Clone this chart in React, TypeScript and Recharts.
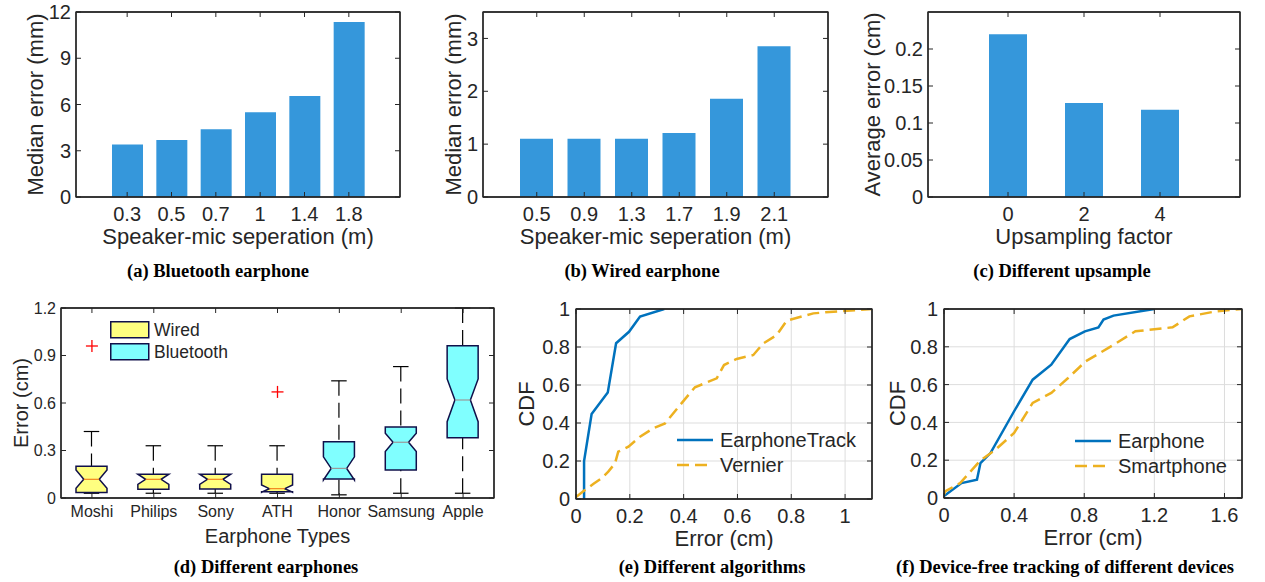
import React from "react";
import {
  ComposedChart,
  LineChart,
  Bar,
  Line,
  Scatter,
  XAxis,
  YAxis,
  CartesianGrid,
  Legend,
} from "recharts";

const FONT = '"Liberation Sans", Arial, Helvetica, sans-serif';
const SERIF = '"Liberation Serif", "Times New Roman", serif';
const INK = "#262626";
const AXIS = "#262626";
const GRID = "#dddddd";
const BAR_BLUE = "#3597DB";
const WIRED_FILL = "#FFFF80";
const BT_FILL = "#80FFFF";
const EDGE = "#10104a";

// (a) Bluetooth earphone
const btSeparation = ["0.3", "0.5", "0.7", "1", "1.4", "1.8"];
const btMedianErr = [3.4, 3.7, 4.4, 5.5, 6.55, 11.35];
const btTicks = [0, 3, 6, 9, 12];

// (b) Wired earphone
const wiredSeparation = ["0.5", "0.9", "1.3", "1.7", "1.9", "2.1"];
const wiredMedianErr = [1.1, 1.1, 1.1, 1.21, 1.86, 2.85];
const wiredTicks = [0, 1, 2, 3];

// (c) Different upsample
const upFactor = ["0", "2", "4"];
const upAvgErr = [0.22, 0.127, 0.118];
const upTicks = [0, 0.05, 0.1, 0.15, 0.2];

// (d) Different earphones (box plots)
const earphones = ["Moshi", "Philips", "Sony", "ATH", "Honor", "Samsung", "Apple"];
const earphoneKind = ["Wired", "Wired", "Wired", "Wired", "Bluetooth", "Bluetooth", "Bluetooth"];
const whiskerLo = [0.03, 0.03, 0.03, 0.03, 0.02, 0.03, 0.03];
const q1 = [0.034, 0.056, 0.057, 0.04, 0.12, 0.177, 0.381];
const medians = [0.118, 0.118, 0.118, 0.059, 0.187, 0.352, 0.619];
const q3 = [0.2, 0.15, 0.15, 0.15, 0.356, 0.448, 0.962];
const whiskerHi = [0.42, 0.33, 0.33, 0.33, 0.74, 0.83, 1.2];
const notchLo = [0.061, 0.086, 0.086, 0.036, 0.114, 0.293, 0.482];
const notchHi = [0.177, 0.15, 0.15, 0.082, 0.26, 0.409, 0.752];
const outlierNames = ["Moshi", "ATH"];
const outlierVals = [0.96, 0.67];
const boxTicks = [0, 0.3, 0.6, 0.9, 1.2];
const boxKinds = ["Wired", "Bluetooth"];

// (e) Different algorithms
const trackX = [0.03, 0.03, 0.058, 0.118, 0.149, 0.197, 0.238, 0.328];
const trackY = [0, 0.2, 0.447, 0.56, 0.82, 0.88, 0.96, 1];
const vernierX = [0, 0.033, 0.064, 0.095, 0.12, 0.145, 0.157, 0.195, 0.238, 0.287, 0.331, 0.387, 0.442, 0.523, 0.55, 0.597, 0.659, 0.696, 0.746, 0.783, 0.882, 0.957, 1.1];
const vernierY = [0.01, 0.047, 0.079, 0.109, 0.144, 0.188, 0.249, 0.275, 0.328, 0.372, 0.398, 0.495, 0.588, 0.635, 0.705, 0.737, 0.758, 0.819, 0.863, 0.939, 0.977, 0.986, 1];
const algoTicksX = [0, 0.2, 0.4, 0.6, 0.8, 1];

// (f) Device-free tracking of different devices
const earX = [0, 0.1, 0.188, 0.208, 0.265, 0.4, 0.506, 0.612, 0.717, 0.804, 0.881, 0.91, 0.967, 1.2];
const earY = [0.01, 0.079, 0.097, 0.185, 0.238, 0.459, 0.626, 0.705, 0.841, 0.882, 0.903, 0.944, 0.965, 1];
const phoneX = [0, 0.006, 0.092, 0.208, 0.294, 0.4, 0.506, 0.612, 0.708, 0.808, 0.938, 1.092, 1.304, 1.4, 1.554, 1.7];
const phoneY = [0.018, 0.035, 0.079, 0.199, 0.256, 0.344, 0.503, 0.556, 0.635, 0.723, 0.794, 0.882, 0.903, 0.961, 0.988, 1];
const deviceTicksX = [0, 0.4, 0.8, 1.2, 1.6];

const cdfTicks = [0, 0.2, 0.4, 0.6, 0.8, 1];

const toRows = (xs: number[], ys: number[]) => xs.map((x, i) => ({ x, y: ys[i] }));
const blank = () => "";

type Box = { l: number; r: number; t: number; b: number };

const frameMargin = (width: number, plot: Box) => ({
  top: plot.t - 1,
  right: width - plot.r - 1,
  bottom: 0,
  left: 0,
});

const axisLineStyle = { stroke: AXIS, strokeWidth: 1.3 };
const tickLineStyle = { stroke: AXIS, strokeWidth: 1 };

// MATLAB-style closed axes box drawn over the plot area
function Frame({ plot }: { plot: Box }) {
  const w = plot.r - plot.l;
  const h = plot.b - plot.t;
  return (
    <svg
      width={w + 4}
      height={h + 4}
      style={{ position: "absolute", left: plot.l - 2, top: plot.t - 2, zIndex: 5, pointerEvents: "none", display: "block" }}
    >
      <rect x={2} y={2} width={w} height={h} fill="none" stroke={AXIS} strokeWidth={1.3} />
    </svg>
  );
}

function Caption({ text, cx, cy }: { text: string; cx: number; cy: number }) {
  return (
    <div
      style={{
        position: "absolute",
        left: cx - 220,
        top: cy - 11,
        width: 440,
        lineHeight: "22px",
        textAlign: "center",
        fontFamily: SERIF,
        fontWeight: "bold",
        fontSize: 18.5,
        color: "#000",
      }}
    >
      {text}
    </div>
  );
}

type BarPanelProps = {
  left: number;
  top: number;
  width: number;
  height: number;
  plot: Box;
  cats: string[];
  vals: number[];
  yMax: number;
  yTicks: number[];
  pad: number;
  barSize: number;
  yLabel: string;
  yLabelX: number;
  xLabel: string;
};

function BarPanel(p: BarPanelProps) {
  const rows = p.cats.map((name, i) => ({ name, v: p.vals[i] }));
  return (
    <div style={{ position: "absolute", left: p.left, top: p.top, width: p.width, height: p.height }}>
      <ComposedChart width={p.width} height={p.height} data={rows} margin={frameMargin(p.width, p.plot)}>
        <XAxis
          dataKey="name"
          height={p.height - p.plot.b}
          padding={{ left: p.pad, right: p.pad }}
          interval={0}
          tickSize={-5}
          tickMargin={15}
          axisLine={axisLineStyle}
          tickLine={tickLineStyle}
          tick={{ fontSize: 20, fill: INK }}
          label={{ value: p.xLabel, position: "insideTop", offset: 31, fontSize: 22, fill: INK }}
        />
        <XAxis
          xAxisId="t"
          orientation="top"
          dataKey="name"
          height={1}
          padding={{ left: p.pad, right: p.pad }}
          interval={0}
          tickSize={-5}
          tickFormatter={blank}
          tick={{ fontSize: 1 }}
          axisLine={axisLineStyle}
          tickLine={tickLineStyle}
        />
        <YAxis
          width={p.plot.l}
          domain={[0, p.yMax]}
          ticks={p.yTicks}
          interval={0}
          tickSize={-5}
          tickMargin={10}
          axisLine={axisLineStyle}
          tickLine={tickLineStyle}
          tick={{ fontSize: 20, fill: INK }}
          label={{
            value: p.yLabel,
            angle: -90,
            position: "insideLeft",
            offset: p.yLabelX,
            fontSize: 22,
            fill: INK,
            style: { textAnchor: "middle" },
          }}
        />
        <YAxis
          yAxisId="r"
          orientation="right"
          width={1}
          domain={[0, p.yMax]}
          ticks={p.yTicks}
          interval={0}
          tickSize={-5}
          tickFormatter={blank}
          tick={{ fontSize: 1 }}
          axisLine={axisLineStyle}
          tickLine={tickLineStyle}
        />
        <Bar dataKey="v" fill={BAR_BLUE} barSize={p.barSize} isAnimationActive={false} />
        <Line
          xAxisId="t"
          yAxisId="r"
          dataKey="v"
          stroke="none"
          dot={false}
          activeDot={false}
          legendType="none"
          isAnimationActive={false}
        />
      </ComposedChart>
      <Frame plot={p.plot} />
    </div>
  );
}

function NotchedBox(props: any) {
  const { x, y, width, height, payload } = props;
  if (!payload || height == null) return null;
  const [lo, hi] = payload.range;
  const py = (v: number) => y + ((hi - v) / (hi - lo)) * height;
  const L = x;
  const R = x + width;
  const cx = x + width / 2;
  const ind = width / 4;
  const cap = width / 4;
  const wired = payload.kind === "Wired";
  const pts = [
    [L, payload.q3],
    [R, payload.q3],
    [R, payload.nHi],
    [R - ind, payload.med],
    [R, payload.nLo],
    [R, payload.q1],
    [L, payload.q1],
    [L, payload.nLo],
    [L + ind, payload.med],
    [L, payload.nHi],
  ]
    .map(([px, v]) => `${px},${py(v)}`)
    .join(" ");
  return (
    <g>
      <line x1={cx} x2={cx} y1={py(hi)} y2={py(payload.q3)} stroke="#000" strokeWidth={1.2} strokeDasharray="15 7" />
      <line x1={cx} x2={cx} y1={py(lo)} y2={py(payload.q1)} stroke="#000" strokeWidth={1.2} strokeDasharray="15 7" />
      <line x1={cx - cap} x2={cx + cap} y1={py(hi)} y2={py(hi)} stroke="#000" strokeWidth={1.2} />
      <line x1={cx - cap} x2={cx + cap} y1={py(lo)} y2={py(lo)} stroke="#000" strokeWidth={1.2} />
      <polygon points={pts} fill={wired ? WIRED_FILL : BT_FILL} stroke={EDGE} strokeWidth={1.5} strokeLinejoin="miter" />
      <line
        x1={L + ind}
        x2={R - ind}
        y1={py(payload.med)}
        y2={py(payload.med)}
        stroke={wired ? "#F2841E" : "#9a9a9a"}
        strokeWidth={1.2}
      />
    </g>
  );
}

function PlusMark(props: any) {
  const { cx, cy } = props;
  if (cx == null || cy == null) return null;
  return (
    <g stroke="#FF0000" strokeWidth={1.3}>
      <line x1={cx - 6} x2={cx + 6} y1={cy} y2={cy} />
      <line x1={cx} x2={cx} y1={cy - 6} y2={cy + 6} />
    </g>
  );
}

function BoxLegend() {
  return (
    <svg width={160} height={42}>
      {boxKinds.map((k, i) => (
        <g key={k}>
          <rect
            x={0.75}
            y={0.75 + i * 22}
            width={38}
            height={16}
            fill={k === "Wired" ? WIRED_FILL : BT_FILL}
            stroke={EDGE}
            strokeWidth={1.5}
          />
          <text x={44} y={9 + i * 22} dominantBaseline="central" fontSize={17.5} fill={INK}>
            {k}
          </text>
        </g>
      ))}
    </svg>
  );
}

function BoxPanel() {
  const plot: Box = { l: 61, r: 494, t: 18, b: 208 };
  const width = 500;
  const height = 260;
  const rows = earphones.map((name, i) => ({
    name,
    kind: earphoneKind[i],
    range: [whiskerLo[i], whiskerHi[i]],
    q1: q1[i],
    med: medians[i],
    q3: q3[i],
    nLo: notchLo[i],
    nHi: notchHi[i],
  }));
  const outliers = outlierNames.map((name, i) => ({ name, v: outlierVals[i] }));
  return (
    <div style={{ position: "absolute", left: 0, top: 290, width, height }}>
      <ComposedChart width={width} height={height} data={rows} margin={frameMargin(width, plot)}>
        <XAxis
          dataKey="name"
          allowDuplicatedCategory={false}
          height={height - plot.b}
          interval={0}
          tickSize={-5}
          tickMargin={13}
          axisLine={axisLineStyle}
          tickLine={tickLineStyle}
          tick={{ fontSize: 16, fill: INK }}
          label={{ value: "Earphone Types", position: "insideTop", offset: 31, fontSize: 20, fill: INK }}
        />
        <XAxis
          xAxisId="t"
          orientation="top"
          dataKey="name"
          allowDuplicatedCategory={false}
          height={1}
          interval={0}
          tickSize={-5}
          tickFormatter={blank}
          tick={{ fontSize: 1 }}
          axisLine={axisLineStyle}
          tickLine={tickLineStyle}
        />
        <YAxis
          width={plot.l}
          domain={[0, 1.2]}
          ticks={boxTicks}
          interval={0}
          tickSize={-5}
          tickMargin={10}
          axisLine={axisLineStyle}
          tickLine={tickLineStyle}
          tick={{ fontSize: 16, fill: INK }}
          label={{
            value: "Error (cm)",
            angle: -90,
            position: "insideLeft",
            offset: 21,
            fontSize: 20,
            fill: INK,
            style: { textAnchor: "middle" },
          }}
        />
        <YAxis
          yAxisId="r"
          orientation="right"
          width={1}
          domain={[0, 1.2]}
          ticks={boxTicks}
          interval={0}
          tickSize={-5}
          tickFormatter={blank}
          tick={{ fontSize: 1 }}
          axisLine={axisLineStyle}
          tickLine={tickLineStyle}
        />
        <Bar dataKey="range" barSize={31} shape={NotchedBox} isAnimationActive={false} legendType="none" />
        <Scatter data={outliers} dataKey="v" shape={PlusMark} isAnimationActive={false} legendType="none" />
        <Line
          xAxisId="t"
          yAxisId="r"
          dataKey="q3"
          stroke="none"
          dot={false}
          activeDot={false}
          legendType="none"
          isAnimationActive={false}
        />
        <Legend
          layout="horizontal"
          verticalAlign="middle"
          align="center"
          wrapperStyle={{ left: 110, top: 31, width: 160, height: 42 }}
          content={() => <BoxLegend />}
        />
      </ComposedChart>
      <Frame plot={plot} />
    </div>
  );
}

type Series = { name: string; rows: { x: number; y: number }[]; color: string; dash?: string };

function CdfLegend({ series }: { series: Series[] }) {
  return (
    <svg width={200} height={50}>
      {series.map((s, i) => (
        <g key={s.name}>
          <line x1={0} x2={36} y1={12 + i * 25} y2={12 + i * 25} stroke={s.color} strokeWidth={2.5} strokeDasharray={s.dash} />
          <text x={43} y={12 + i * 25} dominantBaseline="central" fontSize={20} fill={INK}>
            {s.name}
          </text>
        </g>
      ))}
    </svg>
  );
}

type CdfPanelProps = {
  left: number;
  top: number;
  width: number;
  height: number;
  plot: Box;
  xMax: number;
  xTicks: number[];
  series: Series[];
  yLabelX: number;
  legendLeft: number;
  legendTop: number;
};

function CdfPanel(p: CdfPanelProps) {
  return (
    <div style={{ position: "absolute", left: p.left, top: p.top, width: p.width, height: p.height }}>
      <LineChart width={p.width} height={p.height} margin={frameMargin(p.width, p.plot)}>
        <CartesianGrid stroke={GRID} />
        <XAxis
          type="number"
          dataKey="x"
          domain={[0, p.xMax]}
          ticks={p.xTicks}
          allowDataOverflow
          interval={0}
          height={p.height - p.plot.b}
          tickSize={-5}
          tickMargin={15}
          axisLine={axisLineStyle}
          tickLine={tickLineStyle}
          tick={{ fontSize: 20, fill: INK }}
          label={{ value: "Error (cm)", position: "insideTop", offset: 31, fontSize: 22, fill: INK }}
        />
        <XAxis
          xAxisId="t"
          orientation="top"
          type="number"
          dataKey="x"
          domain={[0, p.xMax]}
          ticks={p.xTicks}
          allowDataOverflow
          interval={0}
          height={1}
          tickSize={-5}
          tickFormatter={blank}
          tick={{ fontSize: 1 }}
          axisLine={axisLineStyle}
          tickLine={tickLineStyle}
        />
        <YAxis
          type="number"
          domain={[0, 1]}
          ticks={cdfTicks}
          allowDataOverflow
          interval={0}
          width={p.plot.l}
          tickSize={-5}
          tickMargin={11}
          axisLine={axisLineStyle}
          tickLine={tickLineStyle}
          tick={{ fontSize: 20, fill: INK }}
          label={{
            value: "CDF",
            angle: -90,
            position: "insideLeft",
            offset: p.yLabelX,
            fontSize: 22,
            fill: INK,
            style: { textAnchor: "middle" },
          }}
        />
        <YAxis
          yAxisId="r"
          orientation="right"
          type="number"
          domain={[0, 1]}
          ticks={cdfTicks}
          allowDataOverflow
          interval={0}
          width={1}
          tickSize={-5}
          tickFormatter={blank}
          tick={{ fontSize: 1 }}
          axisLine={axisLineStyle}
          tickLine={tickLineStyle}
        />
        {p.series.map((s) => (
          <Line
            key={s.name}
            data={s.rows}
            dataKey="y"
            name={s.name}
            type="linear"
            stroke={s.color}
            strokeWidth={2.5}
            strokeDasharray={s.dash}
            dot={false}
            activeDot={false}
            isAnimationActive={false}
          />
        ))}
        <Line
          xAxisId="t"
          yAxisId="r"
          data={p.series[0].rows}
          dataKey="y"
          stroke="none"
          dot={false}
          activeDot={false}
          legendType="none"
          isAnimationActive={false}
        />
        <Legend
          layout="horizontal"
          verticalAlign="middle"
          align="center"
          wrapperStyle={{ left: p.legendLeft, top: p.legendTop, width: 200, height: 50 }}
          content={() => <CdfLegend series={p.series} />}
        />
      </LineChart>
      <Frame plot={p.plot} />
    </div>
  );
}

export default function App() {
  const algoSeries: Series[] = [
    { name: "EarphoneTrack", rows: toRows(trackX, trackY), color: "#0072BD" },
    { name: "Vernier", rows: toRows(vernierX, vernierY), color: "#EDB120", dash: "12 6" },
  ];
  const deviceSeries: Series[] = [
    { name: "Earphone", rows: toRows(earX, earY), color: "#0072BD" },
    { name: "Smartphone", rows: toRows(phoneX, phoneY), color: "#EDB120", dash: "12 6" },
  ];
  return (
    <div
      style={{
        position: "absolute",
        left: 0,
        top: 0,
        width: 1265,
        height: 582,
        background: "#fff",
        fontFamily: FONT,
        overflow: "hidden",
      }}
    >
      <BarPanel
        left={0}
        top={0}
        width={420}
        height={255}
        plot={{ l: 76, r: 400, t: 12, b: 197 }}
        cats={btSeparation}
        vals={btMedianErr}
        yMax={12}
        yTicks={btTicks}
        pad={29}
        barSize={31}
        yLabel="Median error (mm)"
        yLabelX={35}
        xLabel="Speaker-mic seperation (m)"
      />
      <BarPanel
        left={420}
        top={0}
        width={420}
        height={255}
        plot={{ l: 63, r: 408, t: 12, b: 197 }}
        cats={wiredSeparation}
        vals={wiredMedianErr}
        yMax={3.5}
        yTicks={wiredTicks}
        pad={30}
        barSize={33}
        yLabel="Median error (mm)"
        yLabelX={33}
        xLabel="Speaker-mic seperation (m)"
      />
      <BarPanel
        left={840}
        top={0}
        width={425}
        height={255}
        plot={{ l: 88, r: 400, t: 12, b: 197 }}
        cats={upFactor}
        vals={upAvgErr}
        yMax={0.25}
        yTicks={upTicks}
        pad={42}
        barSize={38}
        yLabel="Average error (cm)"
        yLabelX={32}
        xLabel="Upsampling factor"
      />
      <BoxPanel />
      <CdfPanel
        left={500}
        top={290}
        width={385}
        height={260}
        plot={{ l: 76, r: 372, t: 19, b: 209 }}
        xMax={1.1}
        xTicks={algoTicksX}
        series={algoSeries}
        yLabelX={26}
        legendLeft={177}
        legendTop={138}
      />
      <CdfPanel
        left={880}
        top={290}
        width={385}
        height={260}
        plot={{ l: 64, r: 362, t: 19, b: 208 }}
        xMax={1.7}
        xTicks={deviceTicksX}
        series={deviceSeries}
        yLabelX={17}
        legendLeft={195}
        legendTop={139}
      />
      <Caption text="(a) Bluetooth earphone" cx={218} cy={271} />
      <Caption text="(b) Wired earphone" cx={642} cy={271} />
      <Caption text="(c) Different upsample" cx={1062} cy={271} />
      <Caption text="(d) Different earphones" cx={266} cy={567} />
      <Caption text="(e) Different algorithms" cx={712} cy={567} />
      <Caption text="(f) Device-free tracking of different devices" cx={1065} cy={567} />
    </div>
  );
}
